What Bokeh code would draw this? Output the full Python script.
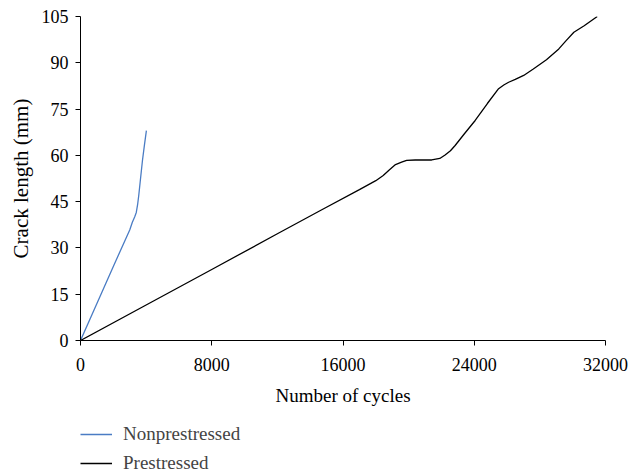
from bokeh.plotting import figure
from bokeh.layouts import column
from bokeh.models import Legend, LegendItem, FixedTicker, Range1d
from bokeh.embed import file_html
from bokeh.resources import INLINE

# Data
non_cycles = [0, 1000, 2000, 3000, 3160, 3300, 3400, 3480, 3550, 3650, 3780, 3900, 4016]
non_crack = [0, 12.0, 24.0, 35.8, 38.3, 40.0, 41.5, 44.0, 47.0, 52.0, 58.5, 63.5, 68.0]

pre_cycles = [0, 4000, 8000, 12000, 14679, 17000, 18000, 18450, 18800, 19200, 19572, 19878,
              20400, 21000, 21407, 21900, 22222, 22550, 22834, 23400, 24057, 24800, 25484,
              25800, 26096, 26500, 27013, 27600, 28400, 29154, 29600, 30072, 30700, 31498]
pre_crack = [0, 11.5, 23.0, 34.6, 42.3, 48.9, 51.8, 53.5, 55.2, 57.0, 57.8, 58.4,
             58.5, 58.5, 58.5, 59.0, 60.1, 61.5, 63.2, 67.0, 71.3, 76.8, 81.6,
             82.8, 83.7, 84.6, 85.9, 88.0, 91.0, 94.5, 97.2, 99.9, 102.0, 105.0]

series_names = ["Nonprestressed", "Prestressed"]
x_ticks = [0, 8000, 16000, 24000, 32000]
y_ticks = [0, 15, 30, 45, 60, 75, 90, 105]

FONT = "Liberation Serif"
BLUE = "#4A7CC4"

p = figure(frame_width=525, frame_height=324, output_backend="svg", toolbar_location=None,
           x_range=Range1d(0, 32000), y_range=Range1d(0, 105),
           min_border_left=80, min_border_right=26, min_border_top=16, min_border_bottom=70)
p.outline_line_color = None
p.grid.visible = False

p.line(non_cycles, non_crack, line_color=BLUE, line_width=1.3)
p.line(pre_cycles, pre_crack, line_color="#000000", line_width=1.3)

for ax in (p.xaxis[0], p.yaxis[0]):
    ax.axis_line_color = "black"
    ax.major_tick_line_color = "black"
    ax.major_tick_in = 0
    ax.major_tick_out = 5
    ax.minor_tick_line_color = None
    ax.major_label_text_font = FONT
    ax.major_label_text_font_size = "18px"
    ax.major_label_text_color = "black"
    ax.axis_label_text_font = FONT
    ax.axis_label_text_font_style = "normal"
    ax.axis_label_text_color = "black"

p.xaxis[0].axis_label_text_font_size = "19px"
p.yaxis[0].axis_label_text_font_size = "21px"
p.xaxis[0].ticker = FixedTicker(ticks=x_ticks)
p.yaxis[0].ticker = FixedTicker(ticks=y_ticks)
p.xaxis[0].axis_label = "Number of cycles"
p.yaxis[0].axis_label = "Crack length (mm)"
p.xaxis[0].major_label_standoff = 12
p.xaxis[0].axis_label_standoff = 11
p.yaxis[0].major_label_standoff = 7
p.yaxis[0].axis_label_standoff = 6

# Legend strip below the chart (same series, shown only through the legend)
lg = figure(width=631, height=64, output_backend="svg", toolbar_location=None,
            x_range=Range1d(-2, -1), y_range=Range1d(-2, -1),
            x_axis_type=None, y_axis_type=None,
            min_border_left=80, min_border_right=26, min_border_top=0, min_border_bottom=0)
lg.outline_line_color = None
lg.grid.visible = False
l1 = lg.line(non_cycles, non_crack, line_color=BLUE, line_width=1.3)
l2 = lg.line(pre_cycles, pre_crack, line_color="#000000", line_width=1.3)

legend = Legend(items=[LegendItem(label=series_names[0], renderers=[l1]),
                       LegendItem(label=series_names[1], renderers=[l2])],
                location=(0, 0), orientation="vertical",
                border_line_color=None, background_fill_alpha=0,
                label_text_font=FONT, label_text_font_size="19px",
                glyph_width=32, glyph_height=20, label_height=20, spacing=7,
                label_standoff=11, padding=0, margin=0)
lg.add_layout(legend)

layout = column(p, lg, spacing=0)
open("out.html", "w").write(file_html(layout, INLINE))
